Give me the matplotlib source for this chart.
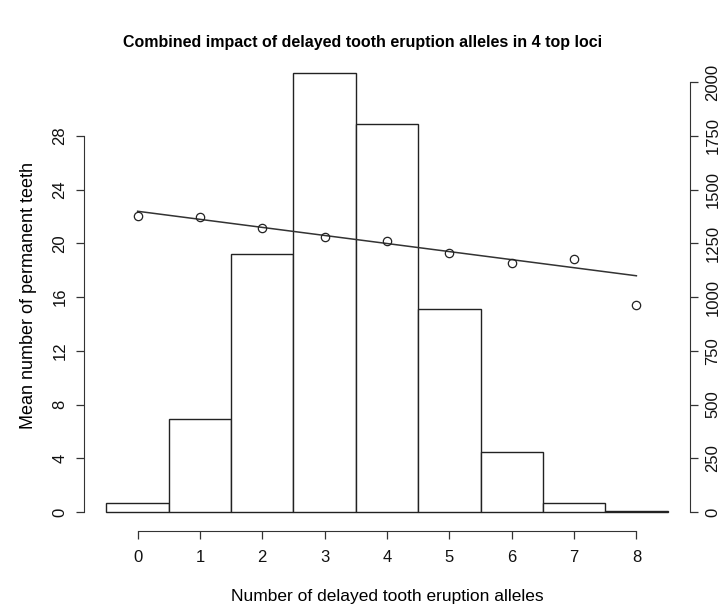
import matplotlib
matplotlib.use("Agg")
import matplotlib.pyplot as plt

plt.rcParams['font.family'] = ['Liberation Sans', 'DejaVu Sans']

# number of delayed eruption alleles
alleles = [0, 1, 2, 3, 4, 5, 6, 7, 8]
# individuals per allele count (histogram, right axis)
counts = [44, 431, 1202, 2040, 1806, 943, 277, 40, 5]
# mean number of permanent teeth (points, left axis)
mean_teeth = [22.0, 21.97, 21.15, 20.5, 20.2, 19.28, 18.5, 18.8, 15.4]
# fitted regression line
fit_x = [0, 8]
fit_y = [22.38, 17.58]

left_ticks = [0, 4, 8, 12, 16, 20, 24, 28]
right_ticks = [0, 250, 500, 750, 1000, 1250, 1500, 1750, 2000]

W, H = 726, 608
fig = plt.figure(figsize=(W / 100, H / 100), dpi=100)

# axes box in pixels: left axis x=84, right axis x=690, bottom axis y=531, top y=60
x0, x1, ybot, ytop = 84, 690, 531, 60
ax = fig.add_axes([x0 / W, 1 - ybot / H, (x1 - x0) / W, (ybot - ytop) / H])

px_per_count = (512 - 82) / 2000
c_lo = -(ybot - 512) / px_per_count
c_hi = (512 - ytop) / px_per_count

ax.bar(alleles, counts, width=1.0, color='white', edgecolor='#222222', linewidth=1.0)
ax.set_xlim(-0.86, 8.86)
ax.set_ylim(c_lo, c_hi)

ax2 = ax.twinx()
ax.yaxis.tick_right()
ax2.yaxis.tick_left()
ax2.yaxis.set_label_position('left')
ax2.set_ylim(c_lo / 62.5, c_hi / 62.5)
ax2.plot(fit_x, fit_y, color='#333333', linewidth=1.1)
ax2.plot(alleles, mean_teeth, 'o', markersize=6, markerfacecolor='none',
         markeredgecolor='#222222', markeredgewidth=0.9)

for a in (ax, ax2):
    for s in a.spines.values():
        s.set_visible(False)
    a.tick_params(colors='#333333', labelcolor='#111111', length=6, width=0.9, labelsize=12)

ax.spines['bottom'].set_visible(True)
ax.spines['bottom'].set_bounds(0, 8)
ax.spines['bottom'].set_color('#333333')
ax.set_xticks(alleles)
ax.tick_params(axis='x', pad=8)

ax.spines['right'].set_visible(True)
ax.spines['right'].set_bounds(0, 2000)
ax.spines['right'].set_color('#333333')
ax.set_yticks(right_ticks)
ax.tick_params(axis='y', labelrotation=90, pad=5)
for t in ax.get_yticklabels():
    t.set_va('center')

ax2.spines['left'].set_visible(True)
ax2.spines['left'].set_bounds(0, 28)
ax2.spines['left'].set_color('#333333')
ax2.set_yticks(left_ticks)
ax2.tick_params(axis='y', labelrotation=90, pad=6)
for t in ax2.get_yticklabels():
    t.set_va('center')

ax2.set_ylabel('Mean number of permanent teeth', fontsize=13, labelpad=11)
ax.set_xlabel('Number of delayed tooth eruption alleles', fontsize=12.5, labelpad=17)

fig.text(363 / W, 1 - 42 / H, 'Combined impact of delayed tooth eruption alleles in 4 top loci',
         ha='center', va='center', fontsize=11.5, fontweight='bold')

fig.savefig('out.png', dpi=100)
